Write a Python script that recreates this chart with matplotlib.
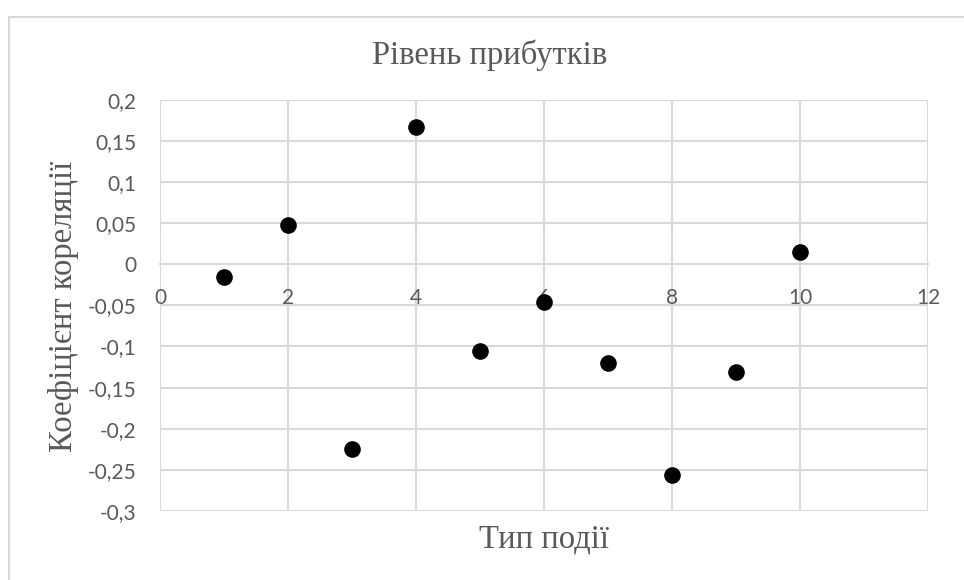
import matplotlib
matplotlib.use("Agg")
import matplotlib.pyplot as plt
from matplotlib.patches import Rectangle

# event types and their correlation coefficients
event_type = [1, 2, 3, 4, 5, 6, 7, 8, 9, 10]
corr = [-0.015, 0.048, -0.225, 0.167, -0.105, -0.046, -0.120, -0.256, -0.131, 0.015]

x_ticks = [0, 2, 4, 6, 8, 10, 12]
y_ticks = [0.2, 0.15, 0.1, 0.05, 0, -0.05, -0.1, -0.15, -0.2, -0.25, -0.3]

grid_col = "#d9d9d9"
text_col = "#595959"
tick_font = "Lato"
label_font = "Liberation Serif"

fig = plt.figure(figsize=(9.64, 5.80), dpi=100)
ax = fig.add_axes([0.166, 0.119, 0.797, 0.709])

ax.scatter(event_type, corr, s=120, color="black", zorder=3)

ax.set_xlim(0, 12)
ax.set_ylim(-0.3, 0.2)
ax.set_xticks(x_ticks)
ax.set_yticks(y_ticks)
ax.set_xticklabels([str(v) for v in x_ticks])
ax.set_yticklabels([("%g" % v).replace(".", ",") for v in y_ticks])

ax.grid(True, color=grid_col, linewidth=1.5, zorder=0)
ax.set_axisbelow(True)
for side in ["top", "right", "left"]:
    ax.spines[side].set_visible(False)
ax.spines["bottom"].set_position(("data", 0))
ax.spines["bottom"].set_color(grid_col)
ax.spines["bottom"].set_linewidth(1.5)

ax.tick_params(axis="both", length=0, colors=text_col, labelsize=15)
ax.tick_params(axis="x", pad=17)
ax.tick_params(axis="y", pad=17)
for lbl in ax.get_xticklabels() + ax.get_yticklabels():
    lbl.set_fontfamily(tick_font)

fig.text(0.508, 0.905, "Рівень прибутків", ha="center", va="center",
         fontsize=23.5, color=text_col, family=label_font)
fig.text(0.564, 0.07, "Тип події", ha="center", va="center",
         fontsize=23.5, color=text_col, family=label_font)
fig.text(0.066, 0.472, "Коефіцієнт кореляції", ha="center", va="center",
         rotation=90, fontsize=23.5, color=text_col, family=label_font)

# chart area frame
fig.patches.append(Rectangle((9 / 964, -0.1), 1.2, 1 - 17 / 580 + 0.1,
                             transform=fig.transFigure, fill=False,
                             edgecolor=grid_col, linewidth=1.5))

fig.savefig("out.png", dpi=100)
